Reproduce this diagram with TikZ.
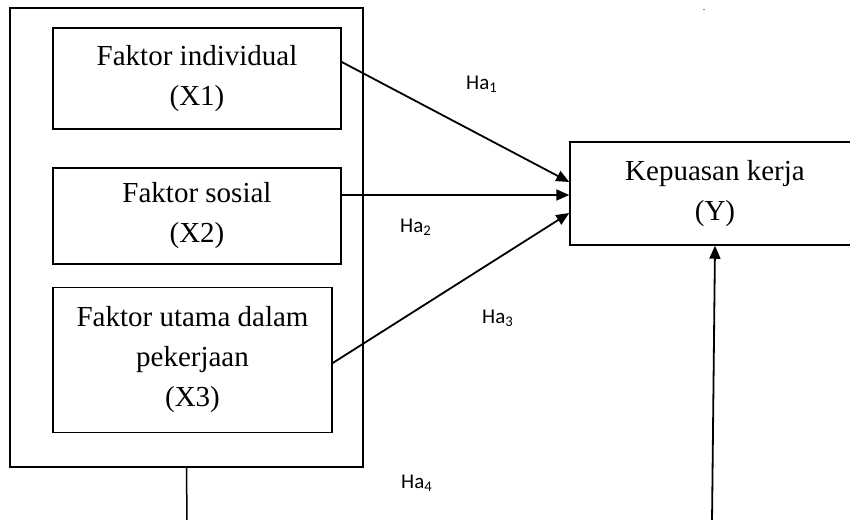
\documentclass[tikz,border=0pt]{standalone}
\usepackage{fontspec}
\setmainfont{Liberation Serif}
\newfontfamily\labfont{Carlito}
\usetikzlibrary{arrows.meta,calc}
\begin{document}
\begin{tikzpicture}[x=1pt,y=-1pt,
  box/.style={draw,line width=1.5pt,inner sep=0pt,align=center,font=\fontsize{29}{40}\selectfont},
  conn/.style={line width=1.8pt,-{Triangle[length=13pt,width=11pt]}},
  plain/.style={line width=1.5pt},
  hlab/.style={anchor=base west,inner sep=0pt,font=\labfont\fontsize{21}{24}\selectfont}]
\useasboundingbox (0,0) rectangle (850,519);
\clip (0,0) rectangle (850,519);
\node[box,minimum width=353pt,minimum height=459pt] (outer) at (186.5,237.5) {};
\node[box,minimum width=288pt,minimum height=101pt] (x1) at (197,78.5) {Faktor individual\\(X1)};
\node[box,minimum width=288pt,minimum height=96pt] (x2) at (197,216) {Faktor sosial\\(X2)};
\node[box,minimum width=279pt,minimum height=145pt] (x3) at (192.5,360) {Faktor utama dalam\\pekerjaan\\(X3)};
\node[box,minimum width=290pt,minimum height=103pt] (y) at (715,193.5) {Kepuasan kerja\\(Y)};
\node[hlab] (h1) at (466,89) {Ha\textsubscript{1}};
\node[hlab] (h2) at (400,232) {Ha\textsubscript{2}};
\node[hlab] (h3) at (482,323) {Ha\textsubscript{3}};
\node[hlab] (h4) at (401,488) {Ha\textsubscript{4}};
\node[anchor=base,inner sep=0pt,font=\fontsize{10}{12}\selectfont] (dot) at (704,11) {.};
\coordinate (b1) at (187,522);
\coordinate (b2) at (712,522);
\draw[conn] ([yshift=16.5pt]x1.east) -- ([yshift=11.5pt]y.west);
\draw[conn] ([yshift=21pt]x2.east) -- ([yshift=-1.5pt]y.west);
\draw[conn] ([yshift=-3pt]x3.east) -- ([yshift=-19.5pt]y.west);
\draw[plain] (outer.south) -- (b1);
\draw[conn] (b2) -- (y.south);
\end{tikzpicture}
\end{document}
